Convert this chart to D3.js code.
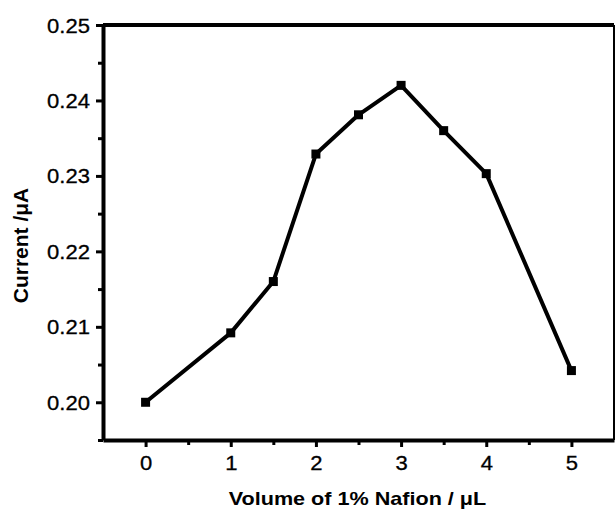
<!DOCTYPE html>
<html>
<head>
<meta charset="utf-8">
<script src="https://cdn.jsdelivr.net/npm/d3@7"></script>
<style>
  html, body { margin: 0; padding: 0; background: #fff; }
  svg { display: block; font-family: "Liberation Sans", Arial, sans-serif; }
</style>
</head>
<body>
<div id="chart"></div>
<script>
// data
var volumes = [0, 1, 1.5, 2, 2.5, 3, 3.5, 4, 5];
var currents = [0.2000, 0.2092, 0.2160, 0.2329, 0.2381, 0.2420, 0.2360, 0.2303, 0.2042];
var xTicks = [0, 1, 2, 3, 4, 5];
var xMinor = [0.5, 1.5, 2.5, 3.5, 4.5];
var yTicks = [0.20, 0.21, 0.22, 0.23, 0.24, 0.25];
var yMinor = [0.195, 0.205, 0.215, 0.225, 0.235, 0.245];
var xTitle = "Volume of 1% Nafion / \u03bcL";
var yTitle = "Current /\u03bcA";

var width = 615, height = 512;
var margin = { top: 25, right: 1, bottom: 72, left: 103 };
var stretch = 1.13; // reference text is a bit wider than normal

var svg = d3.select("#chart").append("svg")
    .attr("width", width)
    .attr("height", height);

var w = width - margin.left - margin.right,
    h = height - margin.top - margin.bottom;

var g = svg.append("g")
    .attr("transform", "translate(" + margin.left + "," + margin.top + ")");

var x = d3.scaleLinear().domain([-0.5, 5.5]).range([0, w]);
var y = d3.scaleLinear().domain([0.195, 0.25]).range([h, 0]);

// frame: right + top
g.append("line")
    .attr("x1", w).attr("x2", w).attr("y1", 0).attr("y2", h)
    .attr("stroke", "#000").attr("stroke-width", 2);
g.append("line")
    .attr("x1", 0).attr("x2", w).attr("y1", 0).attr("y2", 0)
    .attr("stroke", "#000").attr("stroke-width", 4);

// minor ticks
g.append("g")
    .attr("transform", "translate(0," + h + ")")
    .call(d3.axisBottom(x).tickValues(xMinor).tickSize(5).tickFormat(""))
    .call(function (a) { a.select(".domain").remove(); })
    .selectAll("line").attr("stroke-width", 3);
g.append("g")
    .call(d3.axisLeft(y).tickValues(yMinor).tickSize(5).tickFormat(""))
    .call(function (a) { a.select(".domain").remove(); })
    .selectAll("line").attr("stroke-width", 3);

// major axes
var xAxis = g.append("g")
    .attr("transform", "translate(0," + h + ")")
    .call(d3.axisBottom(x).tickValues(xTicks).tickSize(7).tickSizeOuter(0).tickFormat(d3.format("d")));
var yAxis = g.append("g")
    .call(d3.axisLeft(y).tickValues(yTicks).tickSize(7).tickSizeOuter(0).tickFormat(d3.format(".2f")));

[xAxis, yAxis].forEach(function (a) {
    a.select(".domain").attr("stroke-width", 4);
    a.selectAll(".tick line").attr("stroke-width", 3);
    a.selectAll("text")
        .attr("fill", "#000")
        .style("font-size", "19.5px")
        .style("font-family", "'Liberation Sans', Arial, sans-serif")
        .style("stroke", "#000")
        .style("stroke-width", 0.3);
});

xAxis.selectAll("text")
    .attr("y", 0).attr("dy", null)
    .attr("transform", "translate(0,30) scale(" + stretch + ",1)");
yAxis.selectAll("text")
    .attr("x", 0).attr("dy", "0.36em")
    .attr("transform", "translate(-13,0) scale(" + stretch + ",1)");

// data line
var line = d3.line()
    .x(function (d, i) { return x(volumes[i]); })
    .y(function (d) { return y(d); });

g.append("path")
    .datum(currents)
    .attr("d", line)
    .attr("fill", "none")
    .attr("stroke", "#000")
    .attr("stroke-width", 4)
    .attr("stroke-linejoin", "round");

var ms = 9;
g.selectAll("rect.pt")
    .data(currents)
    .enter()
    .append("rect")
    .attr("class", "pt")
    .attr("x", function (d, i) { return x(volumes[i]) - ms / 2; })
    .attr("y", function (d) { return y(d) - ms / 2; })
    .attr("width", ms)
    .attr("height", ms)
    .attr("fill", "#000");

// axis titles
g.append("text")
    .attr("transform", "translate(" + (w / 2 - 1) + "," + (h + 65) + ") scale(1.2,1)")
    .attr("text-anchor", "middle")
    .style("font-size", "18px")
    .style("font-weight", "bold")
    .text(xTitle);

g.append("text")
    .attr("transform", "translate(-75," + (h / 2 + 13) + ") rotate(-90)")
    .attr("text-anchor", "middle")
    .style("font-size", "21px")
    .style("font-weight", "bold")
    .text(yTitle);
</script>
</body>
</html>
